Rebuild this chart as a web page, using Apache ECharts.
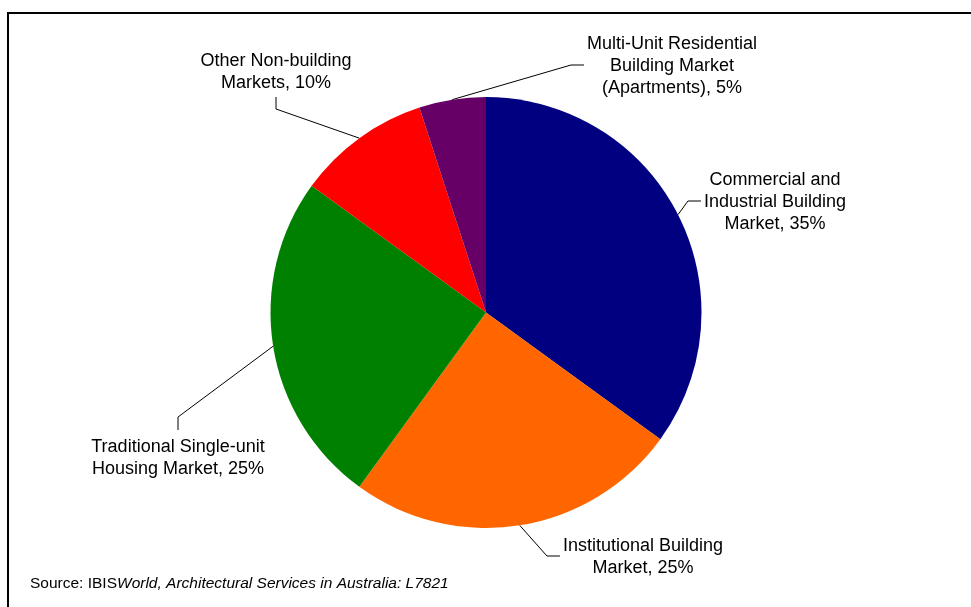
<!DOCTYPE html>
<html>
<head>
<meta charset="utf-8">
<script src="https://cdn.jsdelivr.net/npm/echarts@6/dist/echarts.min.js"></script>
<style>
  html, body { margin: 0; padding: 0; background: #fff; }
  #chart { width: 971px; height: 607px; }
</style>
</head>
<body>
<div id="chart"></div>
<script>
// Market segmentation of architectural services (share of revenue, %)
const categories = [
  'Commercial and\nIndustrial Building\nMarket',
  'Institutional Building\nMarket',
  'Traditional Single-unit\nHousing Market',
  'Other Non-building\nMarkets',
  'Multi-Unit Residential\nBuilding Market\n(Apartments)'
];
const shares = [35, 25, 25, 10, 5];
const colors = ['#000080', '#FF6600', '#008000', '#FF0000', '#660066'];

// Where each label block sits (centre) and which side its leader line enters from
const labelCentres = [
  { x: 775, y: 202, side: 'left' },
  { x: 643, y: 557, side: 'left' },
  { x: 178, y: 458, side: 'top' },
  { x: 276, y: 72, side: 'bottom' },
  { x: 672, y: 66, side: 'left' }
];

const chart = echarts.init(document.getElementById('chart'), null, { renderer: 'canvas' });

const FONT = '"Liberation Sans", Arial, sans-serif';

chart.setOption({
  animation: false,
  backgroundColor: '#ffffff',
  graphic: [
    {
      type: 'rect',
      shape: { x: 8, y: 13, width: 1000, height: 700 },
      style: { fill: 'none', stroke: '#000', lineWidth: 2 },
      silent: true
    },
    {
      type: 'text',
      x: 30,
      y: 584,
      style: {
        text: '{n|Source: IBIS}{i|World, Architectural Services in Australia: L7821}',
        verticalAlign: 'middle',
        rich: {
          n: { fontFamily: FONT, fontSize: 15.5, fill: '#000' },
          i: { fontFamily: FONT, fontSize: 15.5, fontStyle: 'italic', fill: '#000' }
        }
      },
      silent: true
    }
  ],
  series: [{
    type: 'pie',
    center: [486, 312.5],
    radius: 215.5,
    startAngle: 90,
    clockwise: true,
    silent: true,
    emphasis: { disabled: true },
    itemStyle: { borderWidth: 0 },
    label: {
      show: true,
      position: 'outside',
      formatter: '{b}, {c}%',
      fontFamily: FONT,
      fontSize: 18,
      lineHeight: 22,
      color: '#000',
      align: 'center'
    },
    labelLine: {
      show: true,
      length: 20,
      length2: 10,
      lineStyle: { color: '#000', width: 1 }
    },
    labelLayout: function (params) {
      const c = labelCentres[params.dataIndex];
      const w = params.labelRect.width;
      const h = params.labelRect.height;
      const start = params.labelLinePoints ? params.labelLinePoints[0] : [c.x, c.y];
      let end, mid;
      if (c.side === 'left') {
        end = [c.x - w / 2 - 3, c.y - 1];
        mid = [end[0] - 13, end[1]];
      } else if (c.side === 'bottom') {
        end = [c.x, c.y + h / 2 + 3];
        mid = [c.x, end[1] + 12];
      } else {
        end = [c.x, c.y - h / 2 - 6];
        mid = [c.x, end[1] - 13];
      }
      return {
        x: c.x,
        y: c.y,
        align: 'center',
        verticalAlign: 'middle',
        labelLinePoints: [start, mid, end]
      };
    },
    data: categories.map((name, i) => ({
      name: name,
      value: shares[i],
      itemStyle: { color: colors[i] }
    }))
  }]
});
</script>
</body>
</html>
